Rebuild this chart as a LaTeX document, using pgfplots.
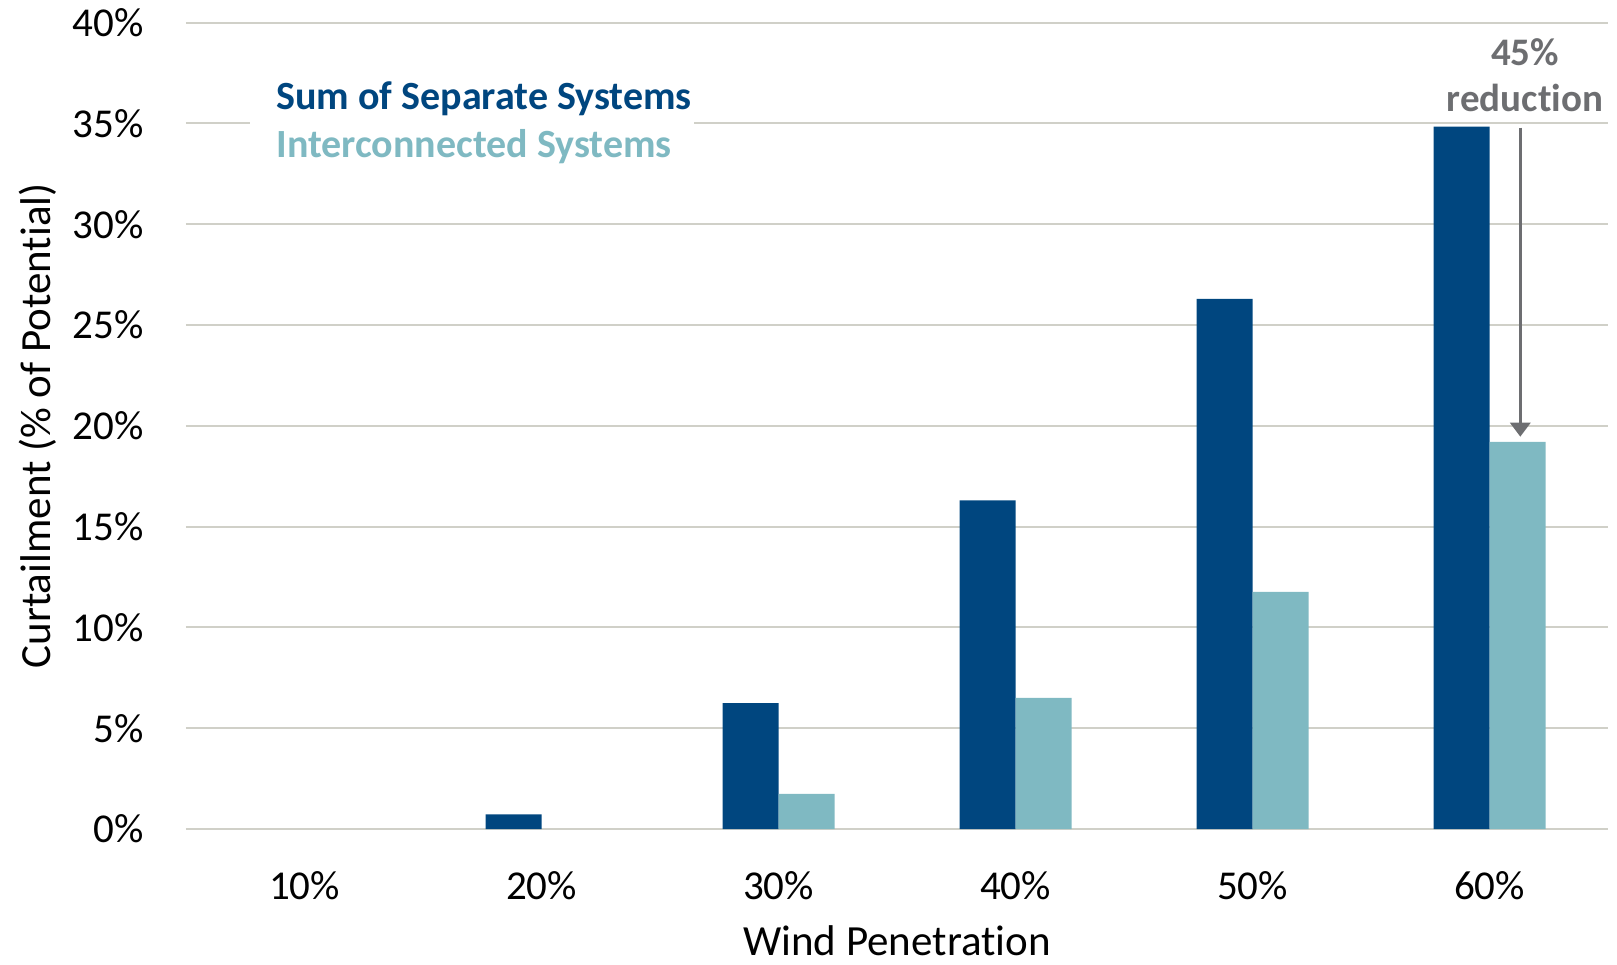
\documentclass[border=0pt]{standalone}
\usepackage{fontspec}
\setmainfont{Carlito}[Ligatures=NoCommon]
\usepackage{pgfplots}
\pgfplotsset{compat=1.18}
\usetikzlibrary{arrows.meta}

\definecolor{darkblue}{RGB}{0,70,127}
\definecolor{teal}{RGB}{127,185,194}
\definecolor{gridc}{RGB}{208,208,200}
\definecolor{annot}{RGB}{109,110,113}

\begin{document}
\begin{tikzpicture}
\begin{axis}[
    scale only axis,
    width=711pt, height=403.15pt,
    ybar=0pt, bar width=28pt,
    xmin=-0.5, xmax=5.5,
    ymin=0, ymax=40,
    xtick={0,1,2,3,4,5},
    xticklabels={10\%,20\%,30\%,40\%,50\%,60\%},
    ytick={0,5,...,40},
    yticklabels={0\%,5\%,10\%,15\%,20\%,25\%,30\%,35\%,40\%},
    major tick length=0pt,
    axis line style={draw=none},
    ymajorgrids,
    grid style={gridc, line width=1pt},
    tick label style={font=\fontsize{20.5}{24}\selectfont, inner sep=0pt},
    xticklabel style={yshift=-21pt},
    yticklabel style={xshift=-21pt},
    xlabel={Wind Penetration},
    ylabel={Curtailment (\% of Potential)},
    label style={font=\fontsize{21.5}{25}\selectfont, inner sep=0pt},
    xlabel style={at={(axis description cs:0.5,-0.139)}, anchor=center},
    ylabel style={at={(axis description cs:-0.104,0.5)}, anchor=center},
    clip=false,
]
% Sum of Separate Systems
\addplot[fill=darkblue, draw=none] coordinates {
    (1,0.73) (2,6.24) (3,16.3) (4,26.3) (5,34.85)
};
% Interconnected Systems
\addplot[fill=teal, draw=none] coordinates {
    (2,1.74) (3,6.5) (4,11.76) (5,19.2)
};

% legend
\fill[white] (axis cs:-0.228,33) rectangle (axis cs:1.643,37.5);
\node[anchor=base west, inner sep=0pt, text=darkblue, font=\fontsize{20}{24}\selectfont\bfseries]
    at (axis cs:-0.12,35.71) {Sum of Separate Systems};
\node[anchor=base west, inner sep=0pt, text=teal, font=\fontsize{20}{24}\selectfont\bfseries]
    at (axis cs:-0.12,33.33) {Interconnected Systems};

% annotation
\draw[annot, line width=1.6pt, -{Triangle[width=10pt,length=7pt]}]
    (axis cs:5.13,34.8) -- (axis cs:5.13,19.46);
\node[text=annot, font=\fontsize{19.5}{23}\selectfont\bfseries, inner sep=0pt]
    at (axis cs:5.15,38.56) {45\%};
\node[text=annot, font=\fontsize{19.5}{23}\selectfont\bfseries, inner sep=0pt]
    at (axis cs:5.15,36.26) {reduction};

\coordinate (sw) at (rel axis cs:0,0);
\coordinate (ne) at (rel axis cs:1,1);
\end{axis}
\pgfresetboundingbox
\path[use as bounding box] ([shift={(-93pt,-67.5pt)}]sw) rectangle ([shift={(4.5pt,11.35pt)}]ne);
\end{tikzpicture}
\end{document}
